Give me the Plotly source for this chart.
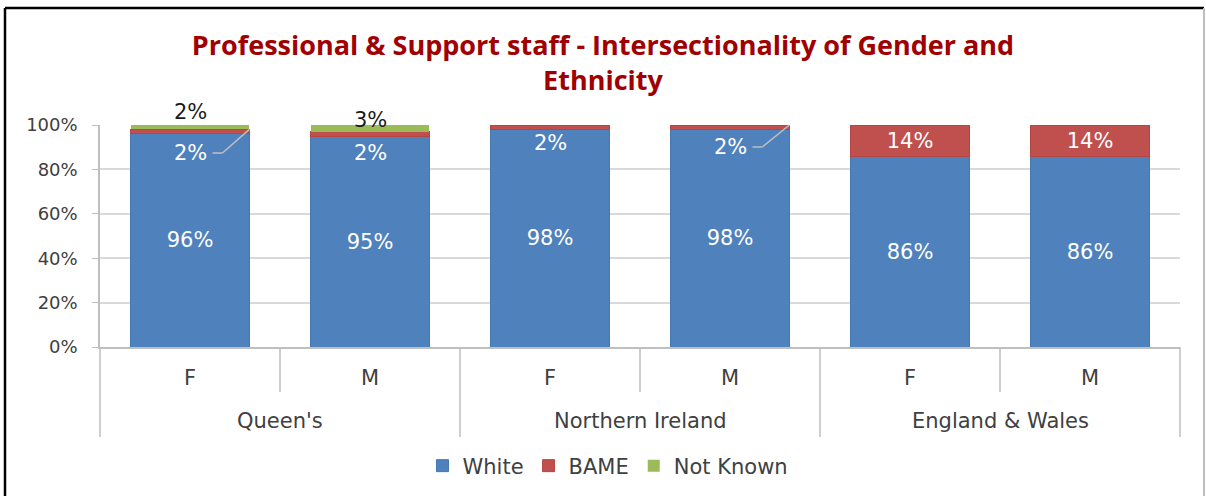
import plotly.graph_objects as go

groups = ["Queen's", "Queen's", "Northern Ireland", "Northern Ireland", "England & Wales", "England & Wales"]
genders = ["F", "M", "F", "M", "F", "M"]
group_names = ["Queen's", "Northern Ireland", "England & Wales"]
white = [96, 95, 98, 98, 86, 86]
bame = [2, 2, 2, 2, 14, 14]
not_known = [2, 3, 0.3, 0.2, 0, 0]
nk_labels = ["2%", "3%", "", "", "", ""]
bame_labels = ["2%", "2%", "2%", "2%", "14%", "14%"]
y_ticks = [0, 20, 40, 60, 80, 100]
y_tick_labels = ["0%", "20%", "40%", "60%", "80%", "100%"]

# label placement (in % of axis) for labels moved off their segments
bame_label_y = [87.4, 87.4, 91.9, 90.1, None, None]
nk_label_y = [105.9, 102.3, None, None, None, None]
leader = [True, False, False, True, False, False]

C_WHITE = "#4F81BD"
C_BAME = "#C0504D"
C_NK = "#9BBB59"
FONT = "DejaVu Sans"
GRAY = "#BFBFBF"
TXT = "#404040"

# pixel geometry helpers (plot area)
L, T, B = 100, 125, 347
W, H = 1080, 222
def px(p):
    return (p - L) / W
def py(p):
    return (B - p) / H

x = [groups, genders]
fig = go.Figure()
fig.add_trace(go.Bar(
    x=x, y=white, name="White", marker=dict(color=C_WHITE, line=dict(color="#4577B3", width=1)),
    text=[f"{v}%" for v in white], textposition="inside", insidetextanchor="middle",
    textfont=dict(color="white", size=21, family=FONT), textangle=0,
))
fig.add_trace(go.Bar(
    x=x, y=bame, name="BAME", marker=dict(color=C_BAME, line=dict(color="#B64643", width=1)),
    text=[lbl if yy is None else "" for lbl, yy in zip(bame_labels, bame_label_y)],
    textposition="inside", insidetextanchor="middle",
    textfont=dict(color="white", size=21, family=FONT), textangle=0,
))
fig.add_trace(go.Bar(
    x=x, y=not_known, name="Not Known", marker=dict(color=C_NK, line=dict(width=0)),
    hoverinfo="skip",
))

n = len(genders)
annotations = []
shapes = []
for i in range(n):
    xc = (i + 0.5) / n
    if bame_label_y[i] is not None:
        annotations.append(dict(
            x=xc, xref="paper", y=bame_label_y[i] / 100, yref="paper",
            text=bame_labels[i], showarrow=False, xanchor="center", yanchor="middle",
            font=dict(color="white", size=21, family=FONT),
        ))
        if leader[i]:
            bar_right = xc + 0.33 / n
            top = (white[i] + bame[i]) / 100
            shapes.append(dict(type="line", xref="paper", yref="paper",
                               x0=xc + 0.125 / n, x1=xc + 0.18 / n,
                               y0=bame_label_y[i] / 100, y1=bame_label_y[i] / 100,
                               line=dict(color=GRAY, width=1.5)))
            shapes.append(dict(type="line", xref="paper", yref="paper",
                               x0=xc + 0.18 / n, x1=bar_right,
                               y0=bame_label_y[i] / 100, y1=top,
                               line=dict(color=GRAY, width=1.5)))
    if nk_label_y[i] is not None:
        annotations.append(dict(
            x=xc, xref="paper", y=nk_label_y[i] / 100, yref="paper",
            text=nk_labels[i], showarrow=False, xanchor="center", yanchor="middle",
            font=dict(color="#1a1a1a", size=21, family=FONT),
        ))
    # gender label
    annotations.append(dict(
        x=xc, xref="paper", y=py(378), yref="paper", text=genders[i], showarrow=False,
        font=dict(color=TXT, size=21, family=FONT), xanchor="center", yanchor="middle",
    ))

# group labels and dividers
ng = len(group_names)
for g in range(ng):
    annotations.append(dict(
        x=(g + 0.5) / ng, xref="paper", y=py(421), yref="paper", text=group_names[g],
        showarrow=False, font=dict(color=TXT, size=21, family=FONT),
        xanchor="center", yanchor="middle",
    ))
for g in range(ng + 1):
    xb = g / ng
    shapes.append(dict(type="line", xref="paper", yref="paper", x0=xb, x1=xb,
                       y0=0, y1=py(437), line=dict(color=GRAY, width=1.5)))
for i in range(n - 1):
    xb = (i + 1) / n
    if (i + 1) % 2 == 1:
        shapes.append(dict(type="line", xref="paper", yref="paper", x0=xb, x1=xb,
                           y0=0, y1=py(392), line=dict(color=GRAY, width=1.5)))

# frame around chart
shapes.append(dict(type="line", xref="paper", yref="paper", x0=px(5), x1=px(5), y0=py(8), y1=py(500),
                   line=dict(color="black", width=2.5)))
shapes.append(dict(type="line", xref="paper", yref="paper", x0=px(5), x1=px(1204), y0=py(8), y1=py(8),
                   line=dict(color="black", width=2.5)))
shapes.append(dict(type="line", xref="paper", yref="paper", x0=px(1204), x1=px(1204), y0=py(8), y1=py(500),
                   line=dict(color=GRAY, width=2)))

fig.update_layout(
    barmode="stack",
    bargap=0.34,
    width=1206, height=496,
    margin=dict(l=L, r=1206 - L - W, t=T, b=496 - B, autoexpand=False),
    paper_bgcolor="white", plot_bgcolor="white",
    title=dict(
        text="Professional & Support staff - Intersectionality of Gender and<br>Ethnicity",
        x=0.5, xanchor="center", y=1 - 55 / 496, yanchor="top",
        font=dict(family="Open Sans", size=27, color="#A00000", weight="bold"),
    ),
    font=dict(family=FONT, size=21, color=TXT),
    legend=dict(orientation="h", x=0.5 - 32 / W, xanchor="center", y=py(466), yanchor="middle",
                font=dict(size=21, color=TXT, family=FONT), traceorder="normal",
                itemwidth=30),
    annotations=annotations,
    shapes=shapes,
    showlegend=True,
)
fig.update_yaxes(
    range=[0, 100], tickvals=y_ticks, ticktext=y_tick_labels,
    showgrid=True, gridcolor="#D9D9D9", gridwidth=1.5,
    showline=True, linecolor=GRAY, linewidth=1.5,
    ticks="outside", ticklen=6, tickcolor=GRAY, ticklabelstandoff=11,
    tickfont=dict(size=18, color=TXT, family=FONT), zeroline=False,
    automargin=False,
)
fig.update_xaxes(
    type="multicategory",
    showline=True, linecolor=GRAY, linewidth=1.5,
    showdividers=False, showticklabels=False, ticks="",
    automargin=False,
)

fig.write_html("out.html", config={"displayModeBar": False},
               post_script="document.body.style.margin='0';")
